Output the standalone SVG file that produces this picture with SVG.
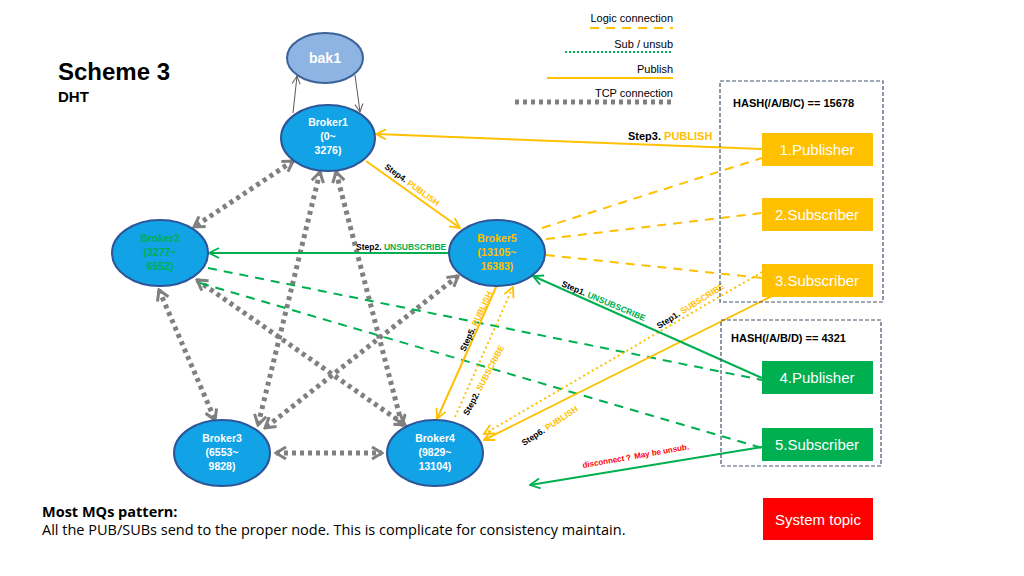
<svg xmlns="http://www.w3.org/2000/svg" width="1024" height="576" viewBox="0 0 1024 576">
<style>
text{font-family:"Liberation Sans",Arial,sans-serif}
.bk{fill:#12A2E6;stroke:#2E5597;stroke-width:2}
.bt{font-size:10.5px;font-weight:bold;text-anchor:middle;fill:#fff}
.tcp{stroke:#808080;stroke-width:5;stroke-dasharray:4 4;fill:none;marker-start:url(#mTcp);marker-end:url(#mTcp)}
.pub{stroke:#FFC000;stroke-width:2;fill:none;marker-end:url(#mOr)}
.sub{stroke:#FFC000;stroke-width:2;stroke-dasharray:2 3;fill:none;marker-end:url(#mOr)}
.logic{stroke:#FFC000;stroke-width:2;stroke-dasharray:9 7;fill:none}
.gsol{stroke:#00B050;stroke-width:2;fill:none;marker-end:url(#mGr)}
.gdash{stroke:#00B050;stroke-width:2;stroke-dasharray:9 7;fill:none}
.lbl{font-size:8.5px;font-weight:bold;fill:#000}
.or{fill:#FFC000}
.gr{fill:#00B050}
.box{stroke:#44546A;stroke-width:1.2;stroke-dasharray:4 2;fill:none}
.bx{font-size:15px;fill:#fff;text-anchor:middle}
.hash{font-size:11px;font-weight:bold;fill:#000}
.leg{font-size:11px;fill:#000;text-anchor:end}
.ft{font-family:"Open Sans",sans-serif;font-size:14.5px;fill:#000}
</style>
<defs>
<marker id="mTcp" viewBox="0 0 14 14" refX="12" refY="7" markerWidth="14" markerHeight="14" markerUnits="userSpaceOnUse" orient="auto-start-reverse"><path d="M2,1 L12,7 L2,13" fill="none" stroke="#808080" stroke-width="3"/></marker>
<marker id="mOr" viewBox="0 0 12 12" refX="11" refY="6" markerWidth="12" markerHeight="12" markerUnits="userSpaceOnUse" orient="auto"><path d="M1,1 L11,6 L1,11" fill="none" stroke="#FFC000" stroke-width="1.8"/></marker>
<marker id="mGr" viewBox="0 0 12 12" refX="11" refY="6" markerWidth="12" markerHeight="12" markerUnits="userSpaceOnUse" orient="auto"><path d="M1,1 L11,6 L1,11" fill="none" stroke="#00B050" stroke-width="1.8"/></marker>
<marker id="mGy" viewBox="0 0 10 10" refX="9" refY="5" markerWidth="10" markerHeight="10" markerUnits="userSpaceOnUse" orient="auto"><path d="M1,1 L9,5 L1,9" fill="none" stroke="#595959" stroke-width="1"/></marker>
</defs>
<rect width="1024" height="576" fill="#fff"/>

<g id="title">
<text x="58" y="80" font-size="24" font-weight="bold">Scheme 3</text>
<text x="58" y="102" font-size="15" font-weight="bold">DHT</text>
</g>

<g id="legend">
<text class="leg" x="673" y="22">Logic connection</text>
<line x1="590" y1="28" x2="673" y2="28" class="logic"/>
<text class="leg" x="673" y="48">Sub / unsub</text>
<line x1="565" y1="52" x2="673" y2="52" stroke="#00B050" stroke-width="2" stroke-dasharray="2 2"/>
<text class="leg" x="673" y="73">Publish</text>
<line x1="547" y1="78" x2="673" y2="78" stroke="#FFC000" stroke-width="2"/>
<text class="leg" x="673" y="97">TCP connection</text>
<line x1="515" y1="102" x2="673" y2="102" stroke="#808080" stroke-width="5" stroke-dasharray="4 4"/>
</g>

<g id="connectors">
<line x1="293" y1="113" x2="297" y2="76" stroke="#595959" stroke-width="1" marker-end="url(#mGy)"/>
<line x1="355" y1="75" x2="360" y2="112" stroke="#595959" stroke-width="1" marker-end="url(#mGy)"/>
<line class="tcp" x1="293" y1="161" x2="194" y2="227"/>
<line class="tcp" x1="320" y1="172" x2="258" y2="425"/>
<line class="tcp" x1="336" y1="172" x2="402" y2="425"/>
<line class="tcp" x1="159" y1="290" x2="215" y2="420"/>
<line class="tcp" x1="197" y1="280" x2="405" y2="425"/>
<line class="tcp" x1="276" y1="453" x2="382" y2="453"/>
<line class="tcp" x1="458" y1="276" x2="265" y2="428"/>
<line class="logic" x1="542" y1="228" x2="762" y2="158"/>
<line class="logic" x1="546" y1="239" x2="762" y2="213"/>
<line class="logic" x1="546" y1="255" x2="762" y2="278"/>
<line class="gdash" x1="208" y1="268" x2="762" y2="380"/>
<line class="gdash" x1="200" y1="283" x2="762" y2="448"/>
<line class="pub" x1="762" y1="149" x2="376" y2="134"/>
<line class="pub" x1="366" y1="161" x2="460" y2="228"/>
<line class="pub" x1="497" y1="285" x2="437" y2="419"/>
<line class="pub" x1="772" y1="296" x2="484" y2="440"/>
<line class="sub" x1="455" y1="417" x2="513" y2="287"/>
<line class="sub" x1="762" y1="272" x2="484" y2="434"/>
<line class="gsol" x1="449" y1="253" x2="209" y2="253"/>
<line class="gsol" x1="762" y1="378" x2="533" y2="276"/>
<line class="gsol" x1="762" y1="447" x2="530" y2="485"/>
</g>

<g id="labels">
<text class="lbl" x="628" y="140" style="font-size:11px">Step3. <tspan class="or">PUBLISH</tspan></text>
<text class="lbl" transform="translate(384,168) rotate(36)">Step4. <tspan class="or">PUBLISH</tspan></text>
<text class="lbl" x="356" y="250">Step2. <tspan class="gr">UNSUBSCRIBE</tspan></text>
<text class="lbl" transform="translate(561,286) rotate(23)">Step1. <tspan class="gr">UNSUBSCRIBE</tspan></text>
<text class="lbl" transform="translate(659,329) rotate(-32)">Step1. <tspan class="or">SUBSCRIBE</tspan></text>
<text class="lbl" transform="translate(465,352) rotate(-65)">Step5. <tspan class="or">PUBLISH</tspan></text>
<text class="lbl" transform="translate(468,416) rotate(-62)">Step2. <tspan class="or">SUBSCRIBE</tspan></text>
<text class="lbl" transform="translate(524,446) rotate(-33)">Step6. <tspan class="or">PUBLISH</tspan></text>
<text class="lbl" transform="translate(583,468) rotate(-10)" style="fill:#FF0000;font-size:8px">disconnect？ May be unsub.</text>
</g>

<g id="bak1">
<ellipse cx="325" cy="58" rx="38" ry="25" fill="#8EB4E3" stroke="#3C6299" stroke-width="2"/>
<text x="325" y="63" font-size="14" font-weight="bold" fill="#fff" text-anchor="middle">bak1</text>
</g>
<g id="broker1">
<ellipse class="bk" cx="328" cy="138" rx="47" ry="33"/>
<text class="bt" x="328" y="126">Broker1</text>
<text class="bt" x="328" y="140">(0~</text>
<text class="bt" x="328" y="154">3276)</text>
</g>
<g id="broker2">
<ellipse class="bk" cx="160" cy="253" rx="48" ry="33"/>
<text class="bt" x="160" y="242" style="fill:#00B050">Broker2</text>
<text class="bt" x="160" y="256" style="fill:#00B050">(3277~</text>
<text class="bt" x="160" y="270" style="fill:#00B050">6552)</text>
</g>
<g id="broker5">
<ellipse class="bk" cx="497" cy="253" rx="48" ry="33"/>
<text class="bt" x="497" y="242" style="fill:#FFC000">Broker5</text>
<text class="bt" x="497" y="256" style="fill:#FFC000">(13105~</text>
<text class="bt" x="497" y="270" style="fill:#FFC000">16383)</text>
</g>
<g id="broker3">
<ellipse class="bk" cx="222" cy="453" rx="48" ry="33"/>
<text class="bt" x="222" y="442">Broker3</text>
<text class="bt" x="222" y="456">(6553~</text>
<text class="bt" x="222" y="470">9828)</text>
</g>
<g id="broker4">
<ellipse class="bk" cx="435" cy="453" rx="48" ry="33"/>
<text class="bt" x="435" y="442">Broker4</text>
<text class="bt" x="435" y="456">(9829~</text>
<text class="bt" x="435" y="470">13104)</text>
</g>

<g id="group1">
<rect class="box" x="720" y="81" width="163" height="221"/>
<text class="hash" x="733" y="107">HASH(/A/B/C) == 15678</text>
</g>
<g id="publisher1">
<rect x="762" y="133" width="111" height="33" fill="#FFC000"/>
<text class="bx" x="817" y="155">1.Publisher</text>
</g>
<g id="subscriber2">
<rect x="762" y="198" width="111" height="33" fill="#FFC000"/>
<text class="bx" x="817" y="220">2.Subscriber</text>
</g>
<g id="subscriber3">
<rect x="762" y="264" width="111" height="33" fill="#FFC000"/>
<text class="bx" x="817" y="286">3.Subscriber</text>
</g>
<g id="group2">
<rect class="box" x="721" y="320" width="160" height="146"/>
<text class="hash" x="731" y="342">HASH(/A/B/D) == 4321</text>
</g>
<g id="publisher4">
<rect x="762" y="361" width="111" height="33" fill="#00B050"/>
<text class="bx" x="817" y="383">4.Publisher</text>
</g>
<g id="subscriber5">
<rect x="762" y="428" width="111" height="33" fill="#00B050"/>
<text class="bx" x="817" y="450">5.Subscriber</text>
</g>
<g id="systemtopic">
<rect x="763" y="498" width="110" height="42" fill="#FF0000"/>
<text class="bx" x="818" y="525">System topic</text>
</g>

<g id="footer">
<text class="ft" x="42" y="517" font-weight="bold">Most MQs pattern:</text>
<text class="ft" x="42" y="535">All the PUB/SUBs send to the proper node. This is complicate for consistency maintain.</text>
</g>
</svg>
